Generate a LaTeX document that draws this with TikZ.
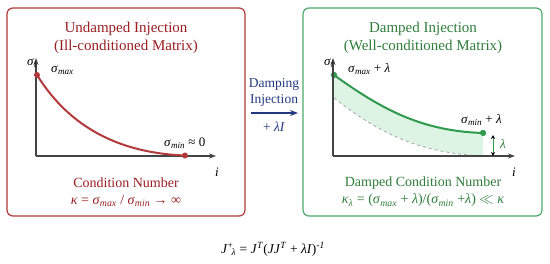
\documentclass[tikz,border=0pt]{standalone}
\usepackage{fontspec}
\setmainfont{Liberation Serif}
\usetikzlibrary{arrows.meta}
\definecolor{redline}{HTML}{B23A3A}
\definecolor{redtext}{HTML}{9A1E22}
\definecolor{greenline}{HTML}{4DAA68}
\definecolor{greentext}{HTML}{2E7D3A}
\definecolor{greencurve}{HTML}{2F9A4C}
\definecolor{greenfill}{HTML}{DDF3E3}
\definecolor{navy}{HTML}{22397F}
\definecolor{axisgray}{HTML}{444444}
\newcommand{\sg}{\textit{σ}}
\newcommand{\lm}{\textit{λ}}
\newcommand{\smax}{\sg\textsubscript{\textit{max}}}
\newcommand{\smin}{\sg\textsubscript{\textit{min}}}
\tikzset{
  panel/.style={draw, line width=1.2pt, rounded corners=6pt},
  axisline/.style={draw=axisgray, line width=1.1pt, -{Stealth[length=7pt,width=5pt]}},
  title/.style={font=\fontsize{15}{18}\selectfont, align=center},
  cond/.style={font=\fontsize{14}{17}\selectfont, align=center},
  lbl/.style={font=\fontsize{13}{15}\selectfont, inner sep=1pt},
  dot/.style={circle, inner sep=0pt, minimum size=6pt},
}
\begin{document}
\begin{tikzpicture}[x=1pt,y=-1pt]
\useasboundingbox (0,0) rectangle (550,263);
% panels
\node[panel, draw=redline, minimum width=238pt, minimum height=208pt] (lp) at (126,112) {};
\node[panel, draw=greenline, minimum width=239pt, minimum height=208pt] (rp) at (422.5,112) {};
% left titles
\node[title, text=redtext] (lt) at (126,38) {Undamped Injection\\(Ill-conditioned Matrix)};
\node[cond, text=redtext] (lc) at (126,192) {Condition Number\\\textit{κ} = \smax{} / \smin{} → ∞};
% left axes
\coordinate (lo) at (36,156);
\coordinate (ly) at (36,58);
\coordinate (lx) at (216,156);
\draw[axisline] (lo) -- (ly);
\draw[axisline] (lo) -- (lx);
\node[lbl] (lsy) at (32,63) {\sg\textsubscript{\textit{i}}};
\node[lbl] (lsx) at (217,172) {\textit{i}};
\node[dot, fill=redline] (la) at (37,75) {};
\node[dot, fill=redline] (lb) at (185,155.5) {};
\draw[redline, line width=2pt] (la.center) .. controls (70,128) and (120,153) .. (lb.center);
\node[lbl, anchor=west] (lmax) at (50,70) {\smax};
\node[lbl, anchor=west] (lmin) at (163,143) {\smin{} ≈ 0};
% middle
\node[font=\fontsize{13.5}{16}\selectfont, text=navy, align=center] (dj) at (274,92) {Damping\\Injection};
\coordinate (ma) at (251,113);
\coordinate (mb) at (298,113);
\draw[navy, line width=1.5pt, -{Stealth[length=8pt,width=6pt]}] (ma) -- (mb);
\node[font=\fontsize{13.5}{16}\selectfont, text=navy] (li) at (274,127) {+ \lm\textit{I}};
% right titles
\node[title, text=greentext] (rt) at (423,38) {Damped Injection\\(Well-conditioned Matrix)};
\node[cond, text=greentext] (rc) at (423,192) {Damped Condition Number\\\textit{κ}\textsubscript{\textit{λ}} = (\smax{} + \lm)/(\smin{} +\lm) $\ll$ \textit{κ}};
% right axes
\coordinate (ro) at (333,156);
\coordinate (ry) at (333,58);
\coordinate (rx) at (515,156);
\coordinate (ra2) at (334,98);
\coordinate (rb2) at (483,156);
\node[dot, fill=greencurve] (ra) at (334,75) {};
\node[dot, fill=greencurve] (rb) at (483,133) {};
\fill[greenfill] (ra.center) .. controls (380,108) and (420,131) .. (rb.center) -- (rb2) .. controls (420,153) and (380,134) .. (ra2) -- cycle;
\draw[gray!70, dashed, line width=0.8pt] (ra2) .. controls (380,134) and (420,153) .. (rb2);
\draw[greencurve, line width=2pt] (ra.center) .. controls (380,108) and (420,131) .. (rb.center);
\node[dot, fill=greencurve] at (ra) {};
\node[dot, fill=greencurve] at (rb) {};
\draw[axisline] (ro) -- (ry);
\draw[axisline] (ro) -- (rx);
\node[lbl] (rsy) at (329,63) {\sg\textsubscript{\textit{i}}};
\node[lbl] (rsx) at (514,172) {\textit{i}};
\node[lbl, anchor=west] (rmax) at (347,69) {\smax{} + \lm};
\node[lbl, anchor=west] (rmin) at (460,120) {\smin{} + \lm};
\coordinate (la1) at (493,135);
\coordinate (la2) at (493,156);
\draw[greencurve, line width=0.9pt, {Stealth[length=4pt,width=4pt,color=black]}-{Stealth[length=4pt,width=4pt,color=black]}] (la1) -- (la2);
\node[lbl, text=greentext] (lamb) at (503,144) {\lm};
% bottom formula
\node[font=\fontsize{13.5}{16}\selectfont] (form) at (273,249) {\textit{J}\textsuperscript{+}\kern-2pt\textsubscript{\textit{λ}} = \textit{J}\textsuperscript{\textit{T}}(\textit{JJ}\textsuperscript{\textit{T}} + \lm\textit{I})\textsuperscript{\textit{-1}}};
\end{tikzpicture}
\end{document}
